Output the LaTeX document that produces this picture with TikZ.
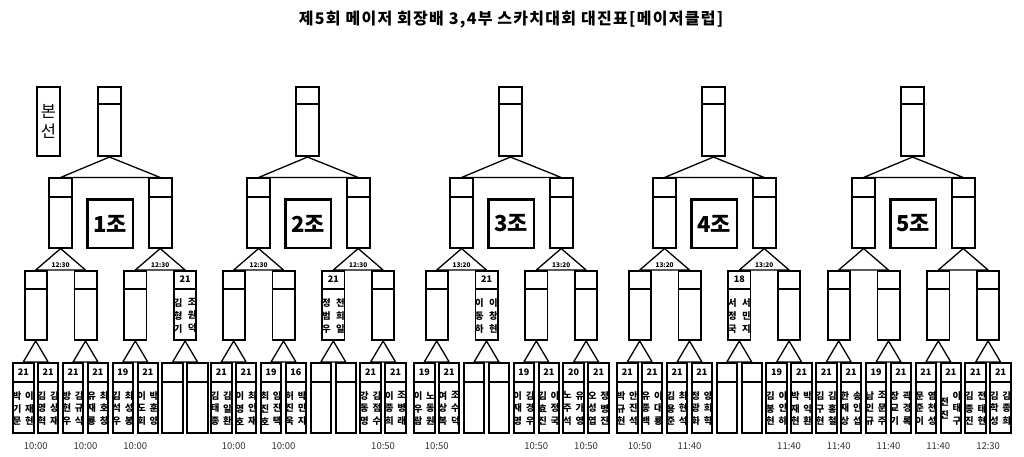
\documentclass[tikz,border=0pt]{standalone}
\usepackage{fontspec}
\setmainfont{Noto Sans CJK KR}
\newfontfamily\titlefont[LetterSpace=8]{Noto Sans CJK KR}
\begin{document}
\begin{tikzpicture}[x=1pt,y=-1pt,
  box/.style={draw, rectangle, inner sep=0pt, line width=#1},
  bigbox/.style={box=1.6pt, minimum width=23pt, minimum height=69.5pt},
  l3box/.style={box=1.8pt, minimum width=22.2pt, minimum height=69.2pt},
  l4box/.style={box=2pt, minimum width=20.5pt, minimum height=70pt},
  grpbox/.style={box=2.5pt, minimum width=45.5pt, minimum height=48.5pt, font=\fontsize{22}{24}\selectfont\bfseries},
  divider/.style={line width=1.4pt},
  tri/.style={line width=1.3pt, line join=round},
  score/.style={font=\fontsize{9}{10}\selectfont\bfseries, inner sep=0pt},
  namecol/.style={font=\fontsize{9.3}{12.7}\selectfont\bfseries, align=center, inner sep=0pt},
  timelbl/.style={font=\fontsize{9.5}{10}\selectfont, text=black!80, inner sep=0pt},
  trilbl/.style={font=\fontsize{6.5}{7}\selectfont\bfseries, inner sep=0pt},
]
\useasboundingbox (0,0) rectangle (1024,457);

\node[font=\titlefont\fontsize{16}{18}\selectfont\bfseries, inner sep=0pt] (title) at (511,20) {제5회 메이저 회장배 3,4부 스카치대회 대진표[메이저클럽]};

\node[bigbox, font=\fontsize{16.5}{20}\selectfont, align=center] (bonseon) at (48.5,121.5) {본\\선};

\foreach \g/\s in {1/12,2/210,3/413,4/616,5/815}{
  % final box
  \node[bigbox] (T\g) at (\s+97.5,121.5) {};
  \draw[divider] (T\g.west |- 0,104) -- (T\g.east |- 0,104);
  % level 2
  \foreach \m in {0,1}{
    \node[bigbox] (B\g-\m) at (\s+48.6+99.6*\m,213) {};
    \draw[divider] (B\g-\m.west |- 0,197) -- (B\g-\m.east |- 0,197);
  }
  \node[grpbox] (G\g) at (\s+98,223.5) {{\g}조};
  \draw[tri] (T\g.south) -- (B\g-0.north) -- (B\g-1.north) -- cycle;
  % level 3
  \foreach \j in {0,...,3}{
    \node[l3box] (C\g-\j) at (\s+23.7+49.8*\j,305.5) {};
    \draw[divider] (C\g-\j.west |- 0,289) -- (C\g-\j.east |- 0,289);
  }
  \draw[tri] (B\g-0.south) -- (C\g-0.north) -- (C\g-1.north) -- cycle;
  \draw[tri] (B\g-1.south) -- (C\g-2.north) -- (C\g-3.north) -- cycle;
  % level 4
  \foreach \k in {0,...,7}{
    \node[l4box] (D\g-\k) at (\s+11.25+24.9*\k,398) {};
    \draw[divider] (D\g-\k.west |- 0,382) -- (D\g-\k.east |- 0,382);
  }
  \foreach \j in {0,...,3}{
    \pgfmathtruncatemacro{\ka}{2*\j}
    \pgfmathtruncatemacro{\kb}{2*\j+1}
    \draw[tri] (C\g-\j.south) -- (D\g-\ka.north) -- (D\g-\kb.north) -- cycle;
  }
}

% level-2 triangle times
\foreach \g/\m/\t in {1/0/12:30,1/1/12:30,2/0/12:30,2/1/12:30,3/0/13:20,3/1/13:20,4/0/13:20,4/1/13:20}{
  \pgfmathtruncatemacro{\ja}{2*\m}
  \pgfmathtruncatemacro{\jb}{2*\m+1}
  \path (C\g-\ja.north) -- (C\g-\jb.north) node[midway, yshift=5pt, trilbl] {\t};
}

% bottom times
\foreach \g/\j/\t in {1/0/10:00,1/1/10:00,1/2/10:00,2/0/10:00,2/1/10:00,2/3/10:50,3/0/10:50,3/2/10:50,3/3/10:50,4/0/10:50,4/1/11:40,4/3/11:40,5/0/11:40,5/1/11:40,5/2/11:40,5/3/12:30}{
  \pgfmathtruncatemacro{\ka}{2*\j}
  \pgfmathtruncatemacro{\kb}{2*\j+1}
  \path (D\g-\ka.south) -- (D\g-\kb.south) node[midway, yshift=-12pt, timelbl] {\t};
}

% level-3 contents
\foreach \g/\j/\sc/\a/\b in {1/3/21/{김\\형\\기}/{조\\원\\덕},2/2/21/{정\\범\\우}/{천\\희\\일},3/1/21/{이\\동\\하}/{이\\창\\현},4/2/18/{서\\정\\국}/{서\\민\\지}}{
  \path (C\g-\j.center) ++(0,-26) node[score] {\sc};
  \path (C\g-\j.center) ++(-7,10.3) node[namecol, font=\fontsize{9.3}{13}\selectfont\bfseries] {\a};
  \path (C\g-\j.center) ++(7,10.3) node[namecol, font=\fontsize{9.3}{13}\selectfont\bfseries] {\b};
}

% level-4 contents
\foreach \g/\k/\sc/\a/\b in {
 1/0/21/{박\\기\\문}/{이\\재\\현},
 1/1/21/{김\\영\\혁}/{김\\상\\재},
 1/2/21/{방\\현\\우}/{김\\규\\식},
 1/3/21/{유\\재\\룡}/{최\\호\\창},
 1/4/19/{김\\석\\우}/{최\\성\\봉},
 1/5/21/{이\\도\\회}/{박\\훈\\양},
 2/0/21/{김\\태\\종}/{김\\일\\환},
 2/1/21/{이\\영\\호}/{최\\인\\재},
 2/2/19/{최\\진\\호}/{임\\진\\택},
 2/3/16/{허\\진\\욱}/{박\\민\\지},
 2/6/21/{강\\동\\명}/{김\\점\\수},
 2/7/21/{이\\종\\희}/{조\\병\\래},
 3/0/19/{이\\우\\람}/{노\\동\\원},
 3/1/21/{여\\상\\복}/{조\\수\\덕},
 3/4/19/{이\\재\\명}/{김\\경\\우},
 3/5/21/{김\\효\\진}/{이\\정\\국},
 3/6/20/{노\\주\\석}/{유\\가\\영},
 3/7/21/{오\\성\\엽}/{정\\병\\진},
 4/0/21/{박\\규\\현}/{안\\진\\석},
 4/1/21/{유\\종\\백}/{이\\대\\룡},
 4/2/21/{김\\용\\준}/{최\\현\\석},
 4/3/21/{정\\광\\화}/{양\\희\\학},
 4/6/19/{김\\봉\\현}/{이\\인\\하},
 4/7/21/{박\\재\\현}/{박\\익\\환},
 5/0/21/{김\\구\\현}/{김\\홍\\철},
 5/1/21/{한\\재\\상}/{송\\인\\섭},
 5/2/19/{남\\인\\규}/{조\\문\\주},
 5/3/21/{장\\교\\기}/{곽\\경\\록},
 5/4/21/{문\\준\\이}/{염\\천\\성},
 5/5/21/{전\\진}/{이\\태\\구},
 5/6/21/{김\\종\\진}/{전\\태\\현},
 5/7/21/{김\\학\\성}/{김\\종\\희}}{
  \path (D\g-\k.center) ++(0,-26) node[score] {\sc};
  \path (D\g-\k.center) ++(-6.2,10.5) node[namecol] {\a};
  \path (D\g-\k.center) ++(6.2,10.5) node[namecol] {\b};
}
\end{tikzpicture}
\end{document}
